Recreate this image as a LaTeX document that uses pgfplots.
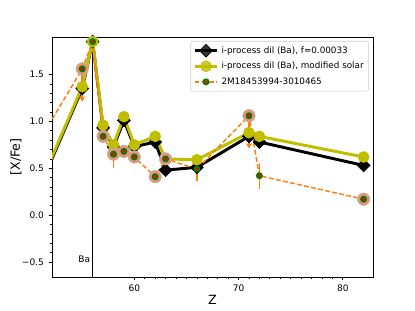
\documentclass[border=0pt]{standalone}
\usepackage{fontspec}
\setmainfont{DejaVu Sans}
\usepackage{pgfplots}
\pgfplotsset{compat=1.18}
\usetikzlibrary{arrows.meta}
\definecolor{olivey}{rgb}{0.75,0.75,0}
\definecolor{mplorange}{HTML}{FF7F0E}
\definecolor{mplgreen}{rgb}{0,0.5,0}
\definecolor{salm}{HTML}{F08C80}
\begin{document}
\begin{tikzpicture}
\begin{axis}[
  scale only axis, width=240.75pt, height=180pt,
  xmin=52.1, xmax=82.9, ymin=-0.66, ymax=1.9,
  xtick={60,70,80}, xticklabels={60,70,80},
  minor x tick num=9,
  ytick={-0.5,0,0.5,1,1.5}, yticklabels={−0.5,0.0,0.5,1.0,1.5},
  minor y tick num=4,
  tick align=outside, tick pos=left,
  major tick length=2.6pt, minor tick length=1.5pt,
  tick style={black, line width=0.5pt},
  axis line style={line width=0.6pt},
  tick label style={font=\fontsize{6.75}{8}\selectfont},
  /pgf/number format/assume math mode=true,
  xlabel={Z}, ylabel={[X/Fe]},
  every axis x label/.style={at={(axis description cs:0.5,0)}, anchor=center, yshift=-17.5pt, font=\fontsize{9.5}{11}\selectfont},
  every axis y label/.style={at={(axis description cs:0,0.5)}, anchor=center, rotate=90, yshift=27pt, font=\fontsize{9.5}{11}\selectfont},
  legend style={at={(1,1)}, anchor=north east, xshift=-3pt, yshift=-3pt,
    font=\fontsize{6.6}{8}\selectfont, draw=black!20, rounded corners=1.5pt,
    fill=white, fill opacity=0.8, text opacity=1, inner sep=1.8pt, row sep=1.2pt},
  legend cell align=left,
  clip=true,
]
\coordinate (ll) at (rel axis cs:0,0);
\coordinate (ur) at (rel axis cs:1,1);
% vertical line at Ba
\addplot[black, line width=0.5pt, forget plot] coordinates {(56,-1) (56,3)};
% model f=0.00033
\addplot[black, line width=2.2pt, mark=square*, mark size=3.4pt,
  mark options={rotate=45, fill=black, line width=0.5pt}]
  coordinates {(50,0.06) (55,1.35) (56,1.85) (57,0.93) (58,0.73) (59,1.01) (60,0.73)
  (62,0.78) (63,0.48) (66,0.51) (71,0.84) (72,0.78) (82,0.53)};
\addlegendentry{i-process dil (Ba), f=0.00033}
% model modified solar
\addplot[olivey, line width=2.2pt, mark=*, mark size=4.1pt,
  mark options={fill=olivey, line width=0.5pt}]
  coordinates {(50,0.08) (55,1.37) (56,1.85) (57,0.96) (58,0.75) (59,1.05) (60,0.75)
  (62,0.84) (63,0.60) (66,0.59) (71,0.88) (72,0.84) (82,0.62)};
\addlegendentry{i-process dil (Ba), modified solar}
\addlegendimage{mplorange, dashed, dash pattern=on 3.6pt off 1.8pt, line width=1.1pt,
  mark=*, mark size=1.95pt, mark options={solid, draw=mplgreen, fill=red, line width=1.3pt}}
\addlegendentry{2M18453994-3010465}
% observed line with error bars
\addplot[mplorange, dash pattern=on 3.6pt off 1.8pt, line width=1.1pt, forget plot,
  error bars/.cd, y dir=both, y explicit,
  error bar style={solid, mplorange, line width=1.1pt}, error mark=none]
  table[x=x, y=y, y error=e, row sep=\\] {
  x y e \\
  50 0.63 0 \\
  55 1.56 0 \\
  56 1.85 0 \\
  57 0.84 0 \\
  58 0.65 0.15 \\
  59 0.68 0 \\
  60 0.62 0 \\
  62 0.41 0 \\
  63 0.60 0 \\
  66 0.49 0.13 \\
  71 1.06 0 \\
  72 0.42 0.14 \\
  82 0.17 0 \\
  };
% upper-limit arrows
\addplot[mplorange, line width=1.1pt, forget plot, -{Stealth[length=4pt, width=4.5pt]},
  quiver={u=\thisrow{u}, v=\thisrow{v}}]
  table[x=x, y=y, row sep=\\] {
  x y u v \\
  55 1.56 0 -0.35 \\
  71 1.06 0 -0.35 \\
  };
% salmon highlight circles
\addplot[only marks, forget plot, mark=*, mark size=4.7pt,
  mark options={fill=salm, draw=mplgreen!40, line width=0.4pt}]
  coordinates {(55,1.56) (57,0.84) (58,0.65) (59,0.68) (60,0.62) (62,0.41)
  (63,0.60) (71,1.06) (82,0.17)};
% observed markers
\addplot[only marks, forget plot, mark=*, mark size=1.95pt,
  mark options={draw=mplgreen, fill=red, line width=1.3pt}]
  coordinates {(55,1.56) (56,1.85) (57,0.84) (58,0.65) (59,0.68) (60,0.62) (62,0.41)
  (63,0.60) (66,0.49) (71,1.06) (72,0.42) (82,0.17)};
\node[font=\fontsize{6.75}{8}\selectfont] at (axis cs:55.2,-0.47) {Ba};
\end{axis}
\pgfresetboundingbox
\path[use as bounding box] ([shift={(-39pt,-25.5pt)}]ll) rectangle ([shift={(31.5pt,27.75pt)}]ur);
\end{tikzpicture}
\end{document}
